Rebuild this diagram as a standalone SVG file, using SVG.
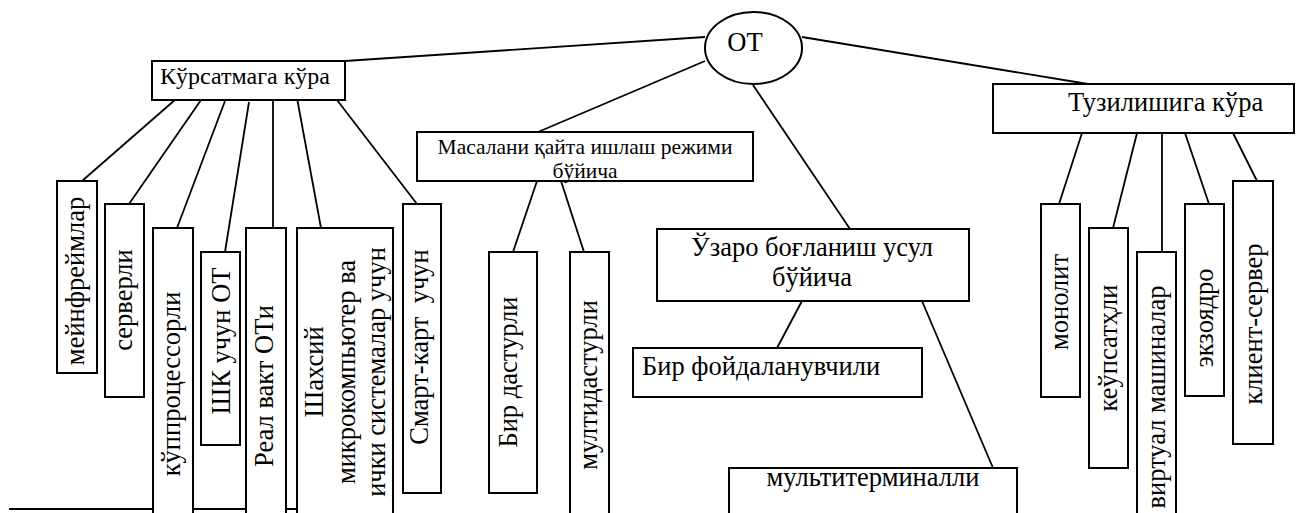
<svg xmlns="http://www.w3.org/2000/svg" width="1297" height="513" viewBox="0 0 1297 513">
<style>
.b{fill:#fff;stroke:#000;stroke-width:2}
.c{stroke:#000;stroke-width:1.8;fill:none}
text{font-family:"Liberation Serif","Times New Roman",serif;font-size:26.5px;fill:#000}
.k{font-size:24px}
.s{font-size:21.5px}
.m{text-anchor:middle}
</style>
<rect width="1297" height="513" fill="#fff"/>
<g id="connectors">
<line class="c" x1="9" y1="509" x2="393" y2="509"/>
<line class="c" x1="345" y1="61" x2="705" y2="37"/>
<line class="c" x1="802" y1="37" x2="1088" y2="84"/>
<line class="c" x1="705" y1="61" x2="538" y2="132"/>
<line class="c" x1="753" y1="85" x2="850" y2="229"/>
<line class="c" x1="176" y1="99" x2="82" y2="181"/>
<line class="c" x1="201" y1="100" x2="129" y2="204"/>
<line class="c" x1="225" y1="101" x2="177" y2="228"/>
<line class="c" x1="249" y1="102" x2="225" y2="252"/>
<line class="c" x1="273" y1="100" x2="273" y2="228"/>
<line class="c" x1="297" y1="98" x2="321" y2="228"/>
<line class="c" x1="337" y1="100" x2="417" y2="204"/>
<line class="c" x1="537" y1="181" x2="513" y2="252"/>
<line class="c" x1="561" y1="181" x2="584" y2="252"/>
<line class="c" x1="802" y1="301" x2="777" y2="348"/>
<line class="c" x1="922" y1="301" x2="993" y2="468"/>
<line class="c" x1="1082" y1="133" x2="1059" y2="204"/>
<line class="c" x1="1137" y1="133" x2="1113" y2="228"/>
<line class="c" x1="1162" y1="133" x2="1162" y2="252"/>
<line class="c" x1="1185" y1="133" x2="1209" y2="204"/>
<line class="c" x1="1233" y1="133" x2="1257" y2="181"/>
</g>
<g id="root"><ellipse class="b" cx="753.5" cy="48" rx="48.5" ry="36"/><text x="745" y="51" class="m">ОТ</text></g>
<g id="n-kursatma"><rect class="b" x="152" y="61" width="193" height="39"/><text class="k" x="160" y="84">Кўрсатмага кўра</text></g>
<g id="n-masala"><rect class="b" x="417" y="132" width="336" height="49"/><text class="s m" x="585" y="154">Масалани қайта ишлаш режими</text><text class="s m" x="585" y="178">бўйича</text></g>
<g id="n-uzaro"><rect class="b" x="657" y="229" width="312" height="72"/><text class="m" x="812" y="256">Ўзаро боғланиш усул</text><text class="m" x="812" y="286">бўйича</text></g>
<g id="n-tuzil"><rect class="b" x="993" y="84" width="301" height="49"/><text x="1068" y="111">Тузилишига кўра</text></g>
<g id="n-mein"><rect class="b" x="57" y="181" width="40" height="192"/><text class="m" transform="translate(84,281) rotate(-90)">мейнфреймлар</text></g>
<g id="n-server"><rect class="b" x="105" y="204" width="39" height="193"/><text class="m" transform="translate(132,300) rotate(-90)">серверли</text></g>
<g id="n-kupproc"><rect class="b" x="153" y="228" width="40" height="300"/><text class="m" transform="translate(180,384) rotate(-90)">кўппроцессорли</text></g>
<g id="n-shk"><rect class="b" x="201" y="252" width="39" height="193"/><text class="m" transform="translate(230,341) rotate(-90)">ШК учун ОТ</text></g>
<g id="n-real"><rect class="b" x="246" y="228" width="40" height="300"/><text class="m" transform="translate(273,386) rotate(-90)">Реал вакт ОТи</text></g>
<g id="n-shaxsiy"><rect class="b" x="297" y="228" width="96" height="300"/><text class="m" transform="translate(323,372) rotate(-90)">Шахсий</text><text class="m" transform="translate(355,372) rotate(-90)">микрокомпьютер ва</text><text class="m" transform="translate(385,372) rotate(-90)">ички системалар учун</text></g>
<g id="n-smart"><rect class="b" x="403" y="204" width="38" height="289"/><text class="m" transform="translate(428,347) rotate(-90)" xml:space="preserve">Смарт-карт  учун</text></g>
<g id="n-bir"><rect class="b" x="489" y="252" width="48" height="241"/><text class="m" transform="translate(517,372) rotate(-90)">Бир дастурли</text></g>
<g id="n-multi"><rect class="b" x="570" y="252" width="39" height="300"/><text class="m" transform="translate(597,385) rotate(-90)">мултидастурли</text></g>
<g id="n-birfoy"><rect class="b" x="633" y="348" width="289" height="49"/><text x="642" y="375">Бир фойдаланувчили</text></g>
<g id="n-multiterm"><rect class="b" x="729" y="468" width="288" height="80"/><text class="m" x="873" y="486">мультитерминалли</text></g>
<g id="n-monolit"><rect class="b" x="1041" y="204" width="39" height="193"/><text class="m" transform="translate(1068,302) rotate(-90)">монолит</text></g>
<g id="n-keup"><rect class="b" x="1089" y="228" width="39" height="240"/><text class="m" transform="translate(1117,348) rotate(-90)">кеўпсатҳли</text></g>
<g id="n-virt"><rect class="b" x="1137" y="252" width="39" height="300"/><text class="m" transform="translate(1165,397) rotate(-90)">виртуал машиналар</text></g>
<g id="n-ekzo"><rect class="b" x="1185" y="204" width="39" height="192"/><text class="m" transform="translate(1213,318) rotate(-90)">экзоядро</text></g>
<g id="n-klient"><rect class="b" x="1233" y="181" width="40" height="263"/><text class="m" transform="translate(1262,324) rotate(-90)">клиент-сервер</text></g>
</svg>
